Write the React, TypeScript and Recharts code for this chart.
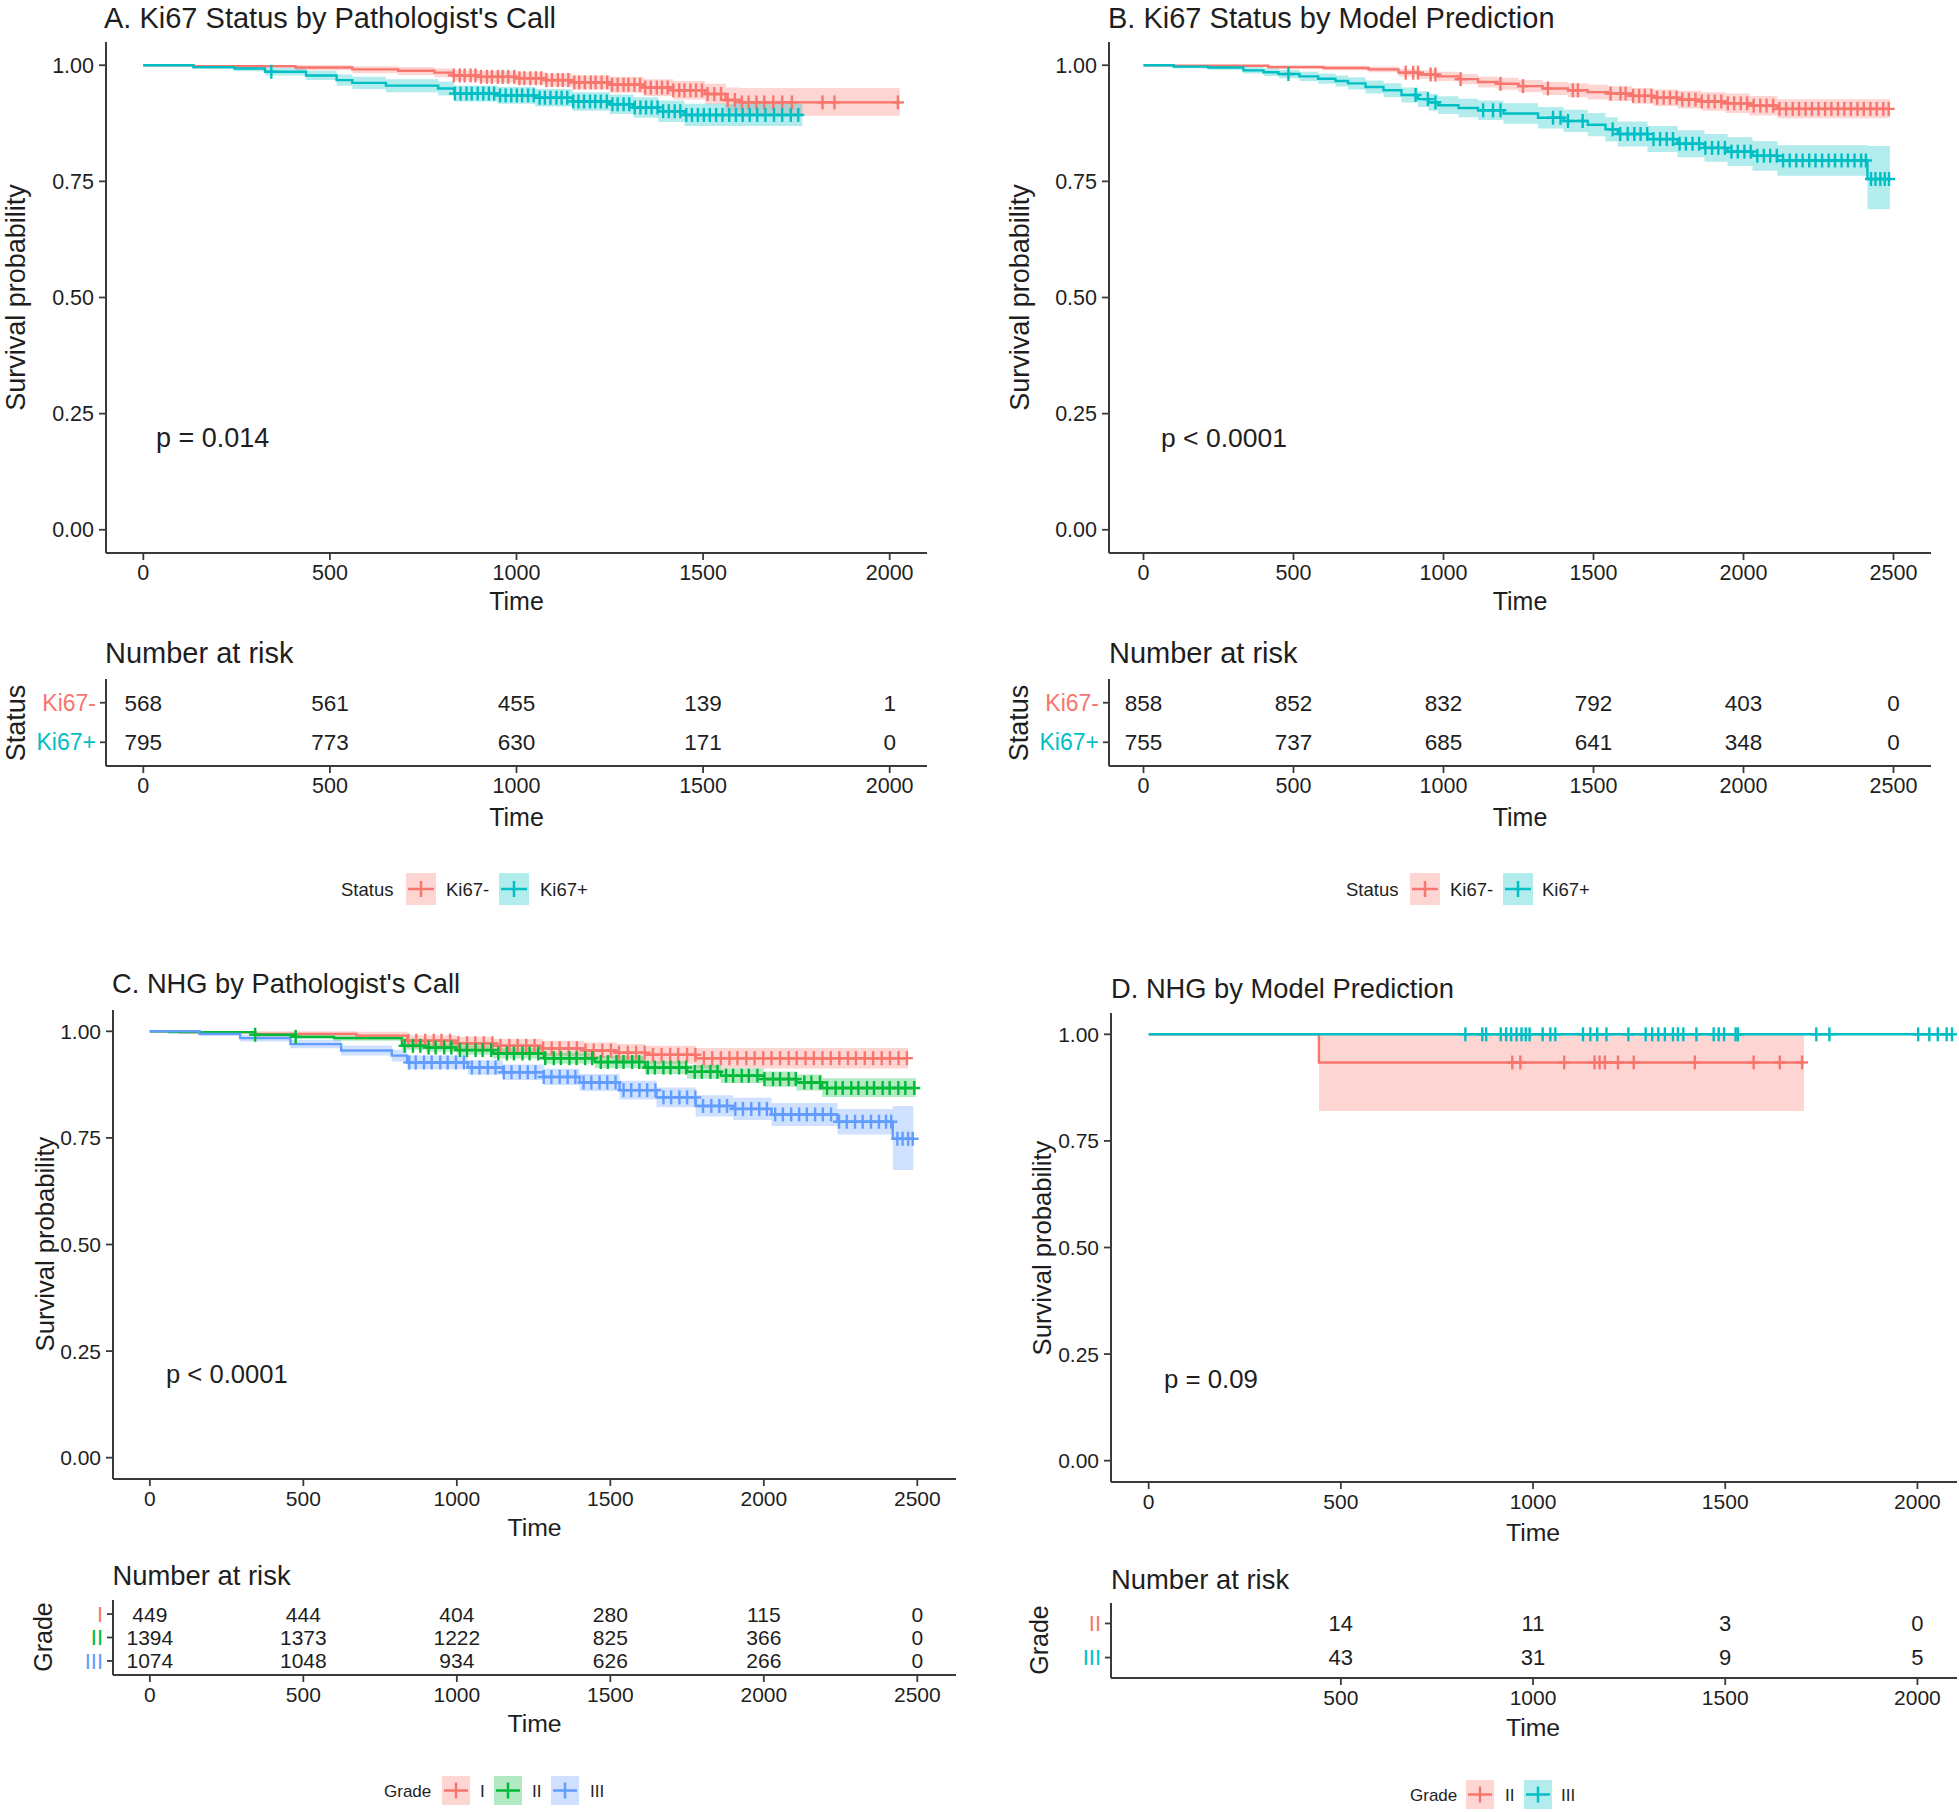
import React from 'react';
import { ComposedChart, Line, Area, Scatter, XAxis, YAxis } from 'recharts';

const RED = '#F8766D';
const CYAN = '#00BFC4';
const GREEN = '#00BA38';
const BLUE = '#619CFF';
const INK = '#1e1e1e';
const AXIS = '#3a3a3a';
const FONT = '"Liberation Sans", Arial, Helvetica, sans-serif';

// KM steps: [time, survival, lower CI, upper CI]
const aKi67Neg = [
  [0, 1, 1, 1], [134, 0.998, 0.994, 1], [408, 0.995, 0.989, 1], [560, 0.991, 0.983, 0.998],
  [683, 0.988, 0.979, 0.996], [780, 0.984, 0.974, 0.993], [830, 0.978, 0.967, 0.989],
  [900, 0.975, 0.963, 0.987], [1000, 0.972, 0.959, 0.985], [1080, 0.968, 0.954, 0.982],
  [1150, 0.963, 0.948, 0.978], [1250, 0.958, 0.941, 0.975], [1340, 0.952, 0.934, 0.97],
  [1420, 0.946, 0.926, 0.966], [1505, 0.938, 0.916, 0.96], [1560, 0.925, 0.898, 0.952],
  [1600, 0.92, 0.891, 0.951], [2027, 0.92, 0.891, 0.951],
];
const aKi67Pos = [
  [0, 1, 1, 1], [134, 0.996, 0.992, 1], [244, 0.993, 0.987, 0.999], [326, 0.986, 0.978, 0.994],
  [436, 0.978, 0.968, 0.988], [518, 0.968, 0.956, 0.98], [560, 0.962, 0.949, 0.975],
  [650, 0.956, 0.942, 0.97], [790, 0.95, 0.935, 0.965], [833, 0.939, 0.922, 0.956],
  [950, 0.935, 0.917, 0.953], [1050, 0.93, 0.911, 0.949], [1150, 0.922, 0.902, 0.942],
  [1250, 0.916, 0.895, 0.937], [1313, 0.909, 0.887, 0.931], [1380, 0.901, 0.878, 0.924],
  [1450, 0.893, 0.869, 0.917], [1766, 0.893, 0.869, 0.917],
];
const bKi67Neg = [
  [0, 1, 1, 1], [100, 0.999, 0.997, 1], [416, 0.996, 0.992, 1], [600, 0.994, 0.989, 0.999],
  [750, 0.991, 0.985, 0.997], [850, 0.984, 0.976, 0.992], [920, 0.98, 0.971, 0.989],
  [980, 0.976, 0.966, 0.986], [1050, 0.97, 0.959, 0.981], [1115, 0.964, 0.952, 0.976],
  [1180, 0.96, 0.947, 0.973], [1250, 0.955, 0.942, 0.968], [1330, 0.95, 0.936, 0.964],
  [1415, 0.946, 0.931, 0.961], [1480, 0.942, 0.926, 0.958], [1548, 0.939, 0.923, 0.955],
  [1630, 0.934, 0.917, 0.951], [1700, 0.93, 0.912, 0.948], [1780, 0.926, 0.907, 0.945],
  [1860, 0.922, 0.902, 0.942], [1940, 0.918, 0.897, 0.939], [2020, 0.913, 0.892, 0.934],
  [2113, 0.906, 0.886, 0.927], [2488, 0.906, 0.886, 0.927],
];
const bKi67Pos = [
  [0, 1, 1, 1], [100, 0.997, 0.993, 1], [216, 0.995, 0.99, 1], [333, 0.989, 0.982, 0.996],
  [400, 0.985, 0.977, 0.993], [450, 0.981, 0.972, 0.99], [520, 0.976, 0.966, 0.986],
  [582, 0.971, 0.96, 0.982], [640, 0.966, 0.954, 0.978], [682, 0.961, 0.948, 0.974],
  [740, 0.953, 0.939, 0.967], [800, 0.946, 0.931, 0.961], [860, 0.936, 0.92, 0.952],
  [915, 0.927, 0.91, 0.944], [950, 0.92, 0.902, 0.938], [982, 0.914, 0.895, 0.933],
  [1050, 0.908, 0.888, 0.928], [1115, 0.903, 0.882, 0.924], [1200, 0.896, 0.874, 0.918],
  [1315, 0.887, 0.864, 0.91], [1400, 0.88, 0.856, 0.904], [1481, 0.872, 0.847, 0.897],
  [1540, 0.862, 0.836, 0.888], [1581, 0.852, 0.825, 0.879], [1680, 0.841, 0.813, 0.869],
  [1780, 0.831, 0.802, 0.86], [1870, 0.822, 0.792, 0.852], [1947, 0.814, 0.783, 0.845],
  [2030, 0.805, 0.773, 0.837], [2113, 0.795, 0.762, 0.828], [2413, 0.755, 0.69, 0.826],
  [2488, 0.755, 0.69, 0.826],
];
const cGradeI = [
  [0, 1, 1, 1], [96, 0.998, 0.994, 1], [343, 0.994, 0.987, 1], [673, 0.99, 0.981, 0.999],
  [838, 0.978, 0.965, 0.991], [1000, 0.972, 0.957, 0.987], [1118, 0.966, 0.95, 0.982],
  [1280, 0.96, 0.942, 0.978], [1415, 0.955, 0.936, 0.974], [1520, 0.95, 0.93, 0.97],
  [1613, 0.945, 0.924, 0.966], [1778, 0.937, 0.913, 0.961], [2470, 0.937, 0.913, 0.961],
];
const cGradeII = [
  [0, 1, 1, 1], [63, 0.998, 0.996, 1], [343, 0.992, 0.988, 0.996], [475, 0.987, 0.982, 0.992],
  [600, 0.984, 0.978, 0.99], [821, 0.966, 0.957, 0.975], [900, 0.962, 0.952, 0.972],
  [1000, 0.956, 0.945, 0.967], [1118, 0.948, 0.936, 0.96], [1283, 0.937, 0.924, 0.95],
  [1450, 0.928, 0.914, 0.942], [1613, 0.915, 0.9, 0.93], [1750, 0.905, 0.889, 0.921],
  [1860, 0.896, 0.879, 0.913], [2000, 0.888, 0.87, 0.906], [2107, 0.88, 0.861, 0.899],
  [2190, 0.867, 0.846, 0.89], [2495, 0.867, 0.846, 0.89],
];
const cGradeIII = [
  [0, 1, 1, 1], [162, 0.994, 0.989, 0.999], [294, 0.984, 0.976, 0.992], [458, 0.97, 0.96, 0.98],
  [623, 0.955, 0.943, 0.967], [788, 0.943, 0.929, 0.957], [838, 0.927, 0.911, 0.943],
  [1036, 0.915, 0.898, 0.932], [1150, 0.904, 0.886, 0.922], [1283, 0.893, 0.874, 0.912],
  [1400, 0.88, 0.86, 0.9], [1530, 0.862, 0.84, 0.884], [1650, 0.845, 0.822, 0.868],
  [1778, 0.825, 0.8, 0.85], [1900, 0.818, 0.792, 0.844], [2025, 0.805, 0.778, 0.832],
  [2240, 0.788, 0.758, 0.818], [2420, 0.748, 0.675, 0.825], [2487, 0.748, 0.675, 0.825],
];
const dGradeII = [[0, 1, 1, 1], [443, 0.934, 0.82, 1], [1705, 0.934, 0.82, 1]];
const dGradeIII = [[0, 1, 1, 1], [2095, 1, 1, 1]];

// censoring times (the "+" marks)
const aNegCensor = [832, 848, 861, 877, 890, 905, 921, 934, 950, 963, 978, 994, 1008, 1021, 1037, 1052, 1066, 1080, 1095, 1111, 1124, 1139, 1155, 1168, 1183, 1199, 1212, 1228, 1243, 1256, 1271, 1287, 1300, 1316, 1331, 1345, 1360, 1376, 1390, 1405, 1420, 1436, 1450, 1466, 1481, 1497, 1512, 1530, 1548, 1566, 1585, 1604, 1622, 1643, 1664, 1688, 1712, 1738, 1820, 1852, 2022];
const aPosCensor = [343, 835, 850, 866, 880, 896, 911, 926, 940, 956, 971, 986, 1001, 1015, 1031, 1046, 1062, 1076, 1091, 1107, 1121, 1136, 1152, 1166, 1181, 1197, 1211, 1226, 1242, 1257, 1271, 1287, 1302, 1317, 1332, 1347, 1362, 1378, 1393, 1408, 1424, 1439, 1455, 1470, 1486, 1502, 1518, 1535, 1552, 1570, 1588, 1606, 1625, 1645, 1667, 1690, 1712, 1735, 1755];
const bNegCensor = [874, 899, 915, 957, 973, 1057, 1190, 1265, 1348, 1431, 1448, 1557, 1590, 1607, 1632, 1652, 1671, 1693, 1712, 1734, 1755, 1777, 1796, 1818, 1840, 1861, 1883, 1904, 1926, 1948, 1969, 1991, 2012, 2034, 2056, 2077, 2099, 2120, 2142, 2164, 2185, 2207, 2228, 2250, 2272, 2293, 2315, 2336, 2358, 2380, 2401, 2423, 2444, 2466, 2484];
const bPosCensor = [483, 907, 948, 973, 1132, 1165, 1190, 1365, 1390, 1415, 1464, 1564, 1589, 1614, 1636, 1657, 1679, 1700, 1722, 1744, 1765, 1787, 1808, 1830, 1852, 1873, 1895, 1916, 1938, 1960, 1981, 2003, 2024, 2046, 2068, 2089, 2111, 2132, 2154, 2176, 2197, 2219, 2240, 2262, 2284, 2305, 2327, 2348, 2370, 2392, 2408, 2425, 2440, 2456, 2471, 2485];
const cICensor = [842, 868, 897, 925, 950, 978, 1005, 1033, 1060, 1088, 1116, 1142, 1171, 1198, 1226, 1253, 1281, 1309, 1335, 1364, 1391, 1419, 1446, 1474, 1502, 1528, 1557, 1584, 1612, 1639, 1667, 1695, 1721, 1750, 1777, 1805, 1832, 1860, 1888, 1914, 1943, 1970, 1998, 2025, 2053, 2081, 2107, 2136, 2163, 2191, 2218, 2246, 2274, 2300, 2329, 2356, 2384, 2411, 2439, 2466];
const cIICensor = [343, 475, 830, 857, 881, 908, 931, 959, 982, 1010, 1033, 1061, 1084, 1112, 1135, 1163, 1186, 1214, 1237, 1265, 1288, 1316, 1339, 1367, 1390, 1418, 1441, 1469, 1492, 1520, 1543, 1571, 1594, 1622, 1645, 1673, 1696, 1724, 1747, 1775, 1798, 1826, 1849, 1877, 1900, 1928, 1951, 1979, 2002, 2030, 2053, 2081, 2104, 2132, 2155, 2183, 2206, 2234, 2257, 2285, 2308, 2336, 2359, 2387, 2410, 2438, 2461, 2490];
const cIIICensor = [845, 866, 893, 918, 946, 970, 997, 1023, 1049, 1074, 1101, 1126, 1153, 1178, 1205, 1231, 1256, 1283, 1308, 1335, 1361, 1386, 1413, 1438, 1465, 1490, 1517, 1543, 1568, 1595, 1620, 1647, 1673, 1698, 1725, 1750, 1777, 1802, 1829, 1855, 1880, 1907, 1932, 1959, 1985, 2010, 2037, 2062, 2089, 2115, 2140, 2167, 2192, 2219, 2245, 2270, 2297, 2322, 2349, 2375, 2398, 2415, 2435, 2452, 2470, 2485];
const dIICensor = [946, 967, 1081, 1160, 1173, 1187, 1221, 1262, 1421, 1574, 1642, 1700];
const dIIICensor = [824, 868, 878, 916, 930, 943, 957, 970, 981, 991, 1025, 1045, 1058, 1130, 1149, 1167, 1191, 1248, 1293, 1310, 1326, 1343, 1364, 1377, 1391, 1425, 1470, 1483, 1497, 1527, 1533, 1737, 1771, 2002, 2031, 2053, 2076, 2090];

// number at risk
const riskTimesAB = [0, 500, 1000, 1500, 2000, 2500];
const riskTimesA = [0, 500, 1000, 1500, 2000];
const riskTimesD = [500, 1000, 1500, 2000];
const riskANeg = [568, 561, 455, 139, 1];
const riskAPos = [795, 773, 630, 171, 0];
const riskBNeg = [858, 852, 832, 792, 403, 0];
const riskBPos = [755, 737, 685, 641, 348, 0];
const riskCI = [449, 444, 404, 280, 115, 0];
const riskCII = [1394, 1373, 1222, 825, 366, 0];
const riskCIII = [1074, 1048, 934, 626, 266, 0];
const riskDII = [14, 11, 3, 0];
const riskDIII = [43, 31, 9, 5];

const survTicks = [0, 0.25, 0.5, 0.75, 1];
const ticks2000 = [0, 500, 1000, 1500, 2000];
const ticks2500 = [0, 500, 1000, 1500, 2000, 2500];

type Box = { x0: number; y0: number; x1: number; y1: number };
type Curve = { color: string; steps: number[][]; censor: number[] };

const YW = 100;
const TOP = 8;

const survAt = (steps: number[][], t: number) => {
  let s = steps[0][1];
  for (const st of steps) if (st[0] <= t) s = st[1];
  return s;
};

const plusShape = (color: string) => (p: any) => (
  <g>
    <line x1={p.cx - 6} x2={p.cx + 6} y1={p.cy} y2={p.cy} stroke={color} strokeWidth={2.4} />
    <line x1={p.cx} x2={p.cx} y1={p.cy - 7} y2={p.cy + 7} stroke={color} strokeWidth={2.4} />
  </g>
);

const XTick = (p: any) => (
  <text x={p.x} y={p.y} dy={p.fs * 0.71} textAnchor="middle" fontSize={p.fs} fontFamily={FONT} fill={INK}>
    {p.payload.value}
  </text>
);

const YTick = (p: any) => (
  <text x={p.x} y={p.y} dy={p.fs * 0.355} textAnchor="end" fontSize={p.fs} fontFamily={FONT} fill={INK}>
    {Number(p.payload.value).toFixed(2)}
  </text>
);

function KMPlot({ box, domain, ticks, curves, fs }: { box: Box; domain: number[]; ticks: number[]; curves: Curve[]; fs: number }) {
  const w = box.x1 - box.x0;
  const h = box.y1 - box.y0;
  const right = Math.min(8, 1959 - box.x1);
  const XH = 50;
  return (
    <div style={{ position: 'absolute', left: box.x0 - YW, top: box.y0 - TOP }}>
      <ComposedChart width={YW + w + right} height={TOP + h + XH} margin={{ top: TOP, right, bottom: 0, left: 0 }}>
        <XAxis
          type="number" dataKey="t" domain={domain} ticks={ticks} allowDataOverflow height={XH}
          axisLine={{ stroke: AXIS, strokeWidth: 2 }} tickLine={{ stroke: AXIS, strokeWidth: 1.8 }}
          tickSize={7} tickMargin={5} tick={(p: any) => <XTick {...p} fs={fs} />}
        />
        <YAxis
          type="number" domain={[-0.05, 1.05]} ticks={survTicks} allowDataOverflow width={YW}
          axisLine={{ stroke: AXIS, strokeWidth: 2 }} tickLine={{ stroke: AXIS, strokeWidth: 1.8 }}
          tickSize={7} tickMargin={5} tick={(p: any) => <YTick {...p} fs={fs} />}
        />
        {curves.map((c, i) => (
          <Area
            key={`band-${i}`} data={c.steps.map((r) => ({ t: r[0], band: [r[2], r[3]] }))}
            dataKey="band" type="stepAfter" fill={c.color} fillOpacity={0.3} stroke="none"
            isAnimationActive={false}
          />
        ))}
        {curves.map((c, i) => (
          <Line
            key={`line-${i}`} data={c.steps.map((r) => ({ t: r[0], s: r[1] }))}
            dataKey="s" type="stepAfter" stroke={c.color} strokeWidth={2.4} dot={false}
            isAnimationActive={false}
          />
        ))}
        {curves.map((c, i) => (
          <Scatter
            key={`cens-${i}`} data={c.censor.map((t) => ({ t, s: survAt(c.steps, t) }))}
            dataKey="s" shape={plusShape(c.color)} isAnimationActive={false}
          />
        ))}
      </ComposedChart>
    </div>
  );
}

type RiskRow = { label: string; color: string; values: number[] };

function RiskTable({ box, domain, ticks, times, rows, fs, numFs, labelFs }: { box: Box; domain: number[]; ticks: number[]; times: number[]; rows: RiskRow[]; fs: number; numFs: number; labelFs: number }) {
  const w = box.x1 - box.x0;
  const h = box.y1 - box.y0;
  const right = Math.min(8, 1959 - box.x1);
  const XH = 50;
  const n = rows.length;
  return (
    <div style={{ position: 'absolute', left: box.x0 - YW, top: box.y0 - TOP }}>
      <ComposedChart width={YW + w + right} height={TOP + h + XH} margin={{ top: TOP, right, bottom: 0, left: 0 }}>
        <XAxis
          type="number" dataKey="t" domain={domain} ticks={ticks} allowDataOverflow height={XH}
          axisLine={{ stroke: AXIS, strokeWidth: 2 }} tickLine={{ stroke: AXIS, strokeWidth: 1.8 }}
          tickSize={7} tickMargin={5} tick={(p: any) => <XTick {...p} fs={fs} />}
        />
        <YAxis
          type="number" domain={[0.4, n + 0.6]} ticks={rows.map((_, i) => i + 1)} allowDataOverflow width={YW}
          axisLine={{ stroke: AXIS, strokeWidth: 2 }} tickLine={{ stroke: AXIS, strokeWidth: 1.8 }}
          tickSize={6} tickMargin={4}
          tick={(p: any) => {
            const r = rows[n - p.payload.value];
            return (
              <text x={p.x} y={p.y} dy={labelFs * 0.355} textAnchor="end" fontSize={labelFs} fontFamily={FONT} fill={r.color}>
                {r.label}
              </text>
            );
          }}
        />
        {rows.map((r, k) => (
          <Scatter
            key={r.label} data={times.map((t, i) => ({ t, row: n - k, label: String(r.values[i]) }))}
            dataKey="row" isAnimationActive={false}
            shape={(p: any) => (
              <text x={p.cx} y={p.cy} dy={numFs * 0.355} textAnchor="middle" fontSize={numFs} fontFamily={FONT} fill={INK}>
                {p.payload.label}
              </text>
            )}
          />
        ))}
      </ComposedChart>
    </div>
  );
}

const T = ({ x, y, fs, children, anchor = 'start', rotate = false, color = INK }: any) => (
  <text
    x={x} y={y} fontSize={fs} fontFamily={FONT} fill={color} textAnchor={anchor}
    transform={rotate ? `rotate(-90 ${x} ${y})` : undefined}
    dominantBaseline={rotate ? 'central' : undefined}
  >
    {children}
  </text>
);

const LegendKey = ({ x, y, w, h, color }: any) => {
  const cy = y + h / 2;
  const cx = x + w / 2;
  return (
    <g>
      <rect x={x} y={y} width={w} height={h} fill={color} fillOpacity={0.3} />
      <line x1={x + 2} x2={x + w - 2} y1={cy} y2={cy} stroke={color} strokeWidth={2.5} />
      <line x1={cx} x2={cx} y1={cy - 8} y2={cy + 8} stroke={color} strokeWidth={2.5} />
    </g>
  );
};

export default function App() {
  return (
    <div style={{ position: 'absolute', left: 0, top: 0, width: 1959, height: 1812, overflow: 'hidden', background: '#fff' }}>
      <KMPlot
        box={{ x0: 106, y0: 42, x1: 927, y1: 553 }} domain={[-100, 2100]} ticks={ticks2000} fs={21.5}
        curves={[{ color: RED, steps: aKi67Neg, censor: aNegCensor }, { color: CYAN, steps: aKi67Pos, censor: aPosCensor }]}
      />
      <KMPlot
        box={{ x0: 1109, y0: 42, x1: 1931, y1: 553 }} domain={[-115, 2625]} ticks={ticks2500} fs={21.5}
        curves={[{ color: RED, steps: bKi67Neg, censor: bNegCensor }, { color: CYAN, steps: bKi67Pos, censor: bPosCensor }]}
      />
      <KMPlot
        box={{ x0: 113, y0: 1010, x1: 956, y1: 1479 }} domain={[-120, 2626]} ticks={ticks2500} fs={21}
        curves={[
          { color: RED, steps: cGradeI, censor: cICensor },
          { color: GREEN, steps: cGradeII, censor: cIICensor },
          { color: BLUE, steps: cGradeIII, censor: cIIICensor },
        ]}
      />
      <KMPlot
        box={{ x0: 1111, y0: 1013, x1: 1957, y1: 1482 }} domain={[-98, 2103]} ticks={ticks2000} fs={21}
        curves={[{ color: RED, steps: dGradeII, censor: dIICensor }, { color: CYAN, steps: dGradeIII, censor: dIIICensor }]}
      />

      <RiskTable
        box={{ x0: 106, y0: 679, x1: 927, y1: 766 }} domain={[-100, 2100]} ticks={ticks2000} times={riskTimesA}
        fs={21.5} numFs={22.5} labelFs={23}
        rows={[{ label: 'Ki67-', color: RED, values: riskANeg }, { label: 'Ki67+', color: CYAN, values: riskAPos }]}
      />
      <RiskTable
        box={{ x0: 1109, y0: 679, x1: 1931, y1: 766 }} domain={[-115, 2625]} ticks={ticks2500} times={riskTimesAB}
        fs={21.5} numFs={22.5} labelFs={23}
        rows={[{ label: 'Ki67-', color: RED, values: riskBNeg }, { label: 'Ki67+', color: CYAN, values: riskBPos }]}
      />
      <RiskTable
        box={{ x0: 113, y0: 1600, x1: 956, y1: 1675 }} domain={[-120, 2626]} ticks={ticks2500} times={riskTimesAB}
        fs={21} numFs={21} labelFs={22}
        rows={[
          { label: 'I', color: RED, values: riskCI },
          { label: 'II', color: GREEN, values: riskCII },
          { label: 'III', color: BLUE, values: riskCIII },
        ]}
      />
      <RiskTable
        box={{ x0: 1111, y0: 1603, x1: 1957, y1: 1678 }} domain={[-98, 2103]} ticks={riskTimesD} times={riskTimesD}
        fs={21} numFs={22} labelFs={22}
        rows={[{ label: 'II', color: RED, values: riskDII }, { label: 'III', color: CYAN, values: riskDIII }]}
      />

      <svg width={1959} height={1812} style={{ position: 'absolute', left: 0, top: 0, pointerEvents: 'none' }}>
        <T x={104} y={28} fs={29}>A. Ki67 Status by Pathologist's Call</T>
        <T x={1108} y={28} fs={29}>B. Ki67 Status by Model Prediction</T>
        <T x={112} y={993} fs={27.3}>C. NHG by Pathologist's Call</T>
        <T x={1111} y={997.5} fs={27.3}>D. NHG by Model Prediction</T>

        <T x={156} y={447} fs={27}>p = 0.014</T>
        <T x={1161} y={447} fs={26.5}>p &lt; 0.0001</T>
        <T x={166} y={1382.5} fs={25.6}>p &lt; 0.0001</T>
        <T x={1164} y={1387.5} fs={25.8}>p = 0.09</T>

        <T x={16} y={297.5} fs={27} anchor="middle" rotate>Survival probability</T>
        <T x={1020} y={297.5} fs={27} anchor="middle" rotate>Survival probability</T>
        <T x={45} y={1244} fs={25.6} anchor="middle" rotate>Survival probability</T>
        <T x={1042} y={1248} fs={25.6} anchor="middle" rotate>Survival probability</T>

        <T x={516.5} y={610} fs={25} anchor="middle">Time</T>
        <T x={1520} y={610} fs={25} anchor="middle">Time</T>
        <T x={516.5} y={826} fs={25} anchor="middle">Time</T>
        <T x={1520} y={826} fs={25} anchor="middle">Time</T>
        <T x={534.5} y={1536} fs={24.8} anchor="middle">Time</T>
        <T x={534.5} y={1732} fs={24.8} anchor="middle">Time</T>
        <T x={1533} y={1540.5} fs={24.8} anchor="middle">Time</T>
        <T x={1533} y={1735.5} fs={24.8} anchor="middle">Time</T>

        <T x={105} y={663.4} fs={29}>Number at risk</T>
        <T x={1109} y={663.4} fs={29}>Number at risk</T>
        <T x={112.5} y={1584.8} fs={27.4}>Number at risk</T>
        <T x={1111} y={1589} fs={27.4}>Number at risk</T>

        <T x={16} y={723} fs={27} anchor="middle" rotate>Status</T>
        <T x={1019} y={723} fs={27} anchor="middle" rotate>Status</T>
        <T x={42.5} y={1637} fs={25} anchor="middle" rotate>Grade</T>
        <T x={1039} y={1640} fs={25} anchor="middle" rotate>Grade</T>

        {/* legends */}
        <T x={341} y={895.6} fs={18.5}>Status</T>
        <LegendKey x={406} y={873} w={30} h={32} color={RED} />
        <T x={446} y={895.6} fs={18.5}>Ki67-</T>
        <LegendKey x={499} y={873} w={30} h={32} color={CYAN} />
        <T x={540} y={895.6} fs={18.5}>Ki67+</T>

        <T x={1346} y={895.6} fs={18.5}>Status</T>
        <LegendKey x={1410} y={873} w={30} h={32} color={RED} />
        <T x={1450} y={895.6} fs={18.5}>Ki67-</T>
        <LegendKey x={1503} y={873} w={30} h={32} color={CYAN} />
        <T x={1542} y={895.6} fs={18.5}>Ki67+</T>

        <T x={384} y={1797} fs={17}>Grade</T>
        <LegendKey x={442} y={1776} w={28} h={29} color={RED} />
        <T x={480} y={1797} fs={17}>I</T>
        <LegendKey x={494} y={1776} w={28} h={29} color={GREEN} />
        <T x={532} y={1797} fs={17}>II</T>
        <LegendKey x={551} y={1776} w={28} h={29} color={BLUE} />
        <T x={590} y={1797} fs={17}>III</T>

        <T x={1410} y={1801} fs={17}>Grade</T>
        <LegendKey x={1466} y={1780} w={28} h={29} color={RED} />
        <T x={1505} y={1801} fs={17}>II</T>
        <LegendKey x={1524} y={1780} w={28} h={29} color={CYAN} />
        <T x={1561} y={1801} fs={17}>III</T>
      </svg>
    </div>
  );
}
